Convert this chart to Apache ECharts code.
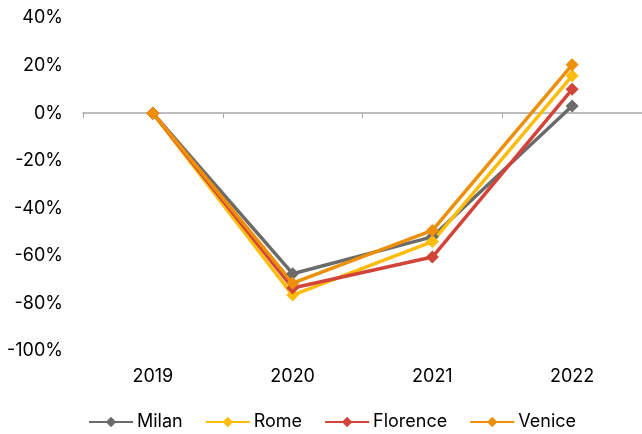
<!DOCTYPE html>
<html>
<head>
<meta charset="utf-8">
<script src="https://cdn.jsdelivr.net/npm/echarts@6/dist/echarts.min.js"></script>
<style>html,body{margin:0;padding:0;background:#fff}#c{width:642px;height:434px}</style>
</head>
<body>
<div id="c"></div>
<script>
var years = ['2019', '2020', '2021', '2022'];
var milan = [0, -67.5, -52, 3];
var rome = [0, -76.5, -54, 15.7];
var florence = [0, -73.5, -60.5, 10];
var venice = [0, -71.5, -49.3, 20.3];
var yTicks = { min: -100, max: 40, interval: 20 };

var font = 'Inter, Liberation Sans, Arial, sans-serif';
function mk(name, data, color) {
  return {
    name: name, type: 'line', data: data, xAxisIndex: 0,
    symbol: 'diamond', symbolSize: 13, showSymbol: true,
    lineStyle: { width: 3.5, color: color },
    itemStyle: { color: color },
    emphasis: { disabled: true }
  };
}
var chart = echarts.init(document.getElementById('c'));
chart.setOption({
  animation: false,
  grid: { left: 83, width: 560, top: 18, height: 333 },
  legend: {
    top: 408, left: 83, itemWidth: 44, itemHeight: 13, itemGap: 22,
    textStyle: { fontFamily: font, fontSize: 18, color: '#000', padding: [0, 0, 0, -1] },
    data: ['Milan', 'Rome', 'Florence', 'Venice']
  },
  xAxis: [{
    type: 'category', data: years, boundaryGap: true,
    axisLine: { onZero: true, lineStyle: { color: '#a6a6a6', width: 1.5 } },
    axisTick: { show: true, length: 5, lineStyle: { color: '#a6a6a6' } },
    axisLabel: { show: false }, splitLine: { show: false }
  }, {
    type: 'category', data: years, position: 'bottom', boundaryGap: true,
    axisLine: { show: false, onZero: false }, axisTick: { show: false },
    axisLabel: { margin: 17, fontFamily: font, fontSize: 18, color: '#000' },
    splitLine: { show: false }
  }],
  yAxis: {
    type: 'value', min: yTicks.min, max: yTicks.max, interval: yTicks.interval,
    axisLine: { show: false }, axisTick: { show: false }, splitLine: { show: false },
    axisLabel: { margin: 20, fontFamily: font, fontSize: 18, color: '#000', formatter: '{value}%' }
  },
  series: [
    mk('Milan', milan, '#6b6b6b'),
    mk('Rome', rome, '#fdbb0a'),
    mk('Florence', florence, '#d2433a'),
    mk('Venice', venice, '#ee8f0a')
  ]
});
</script>
</body>
</html>
